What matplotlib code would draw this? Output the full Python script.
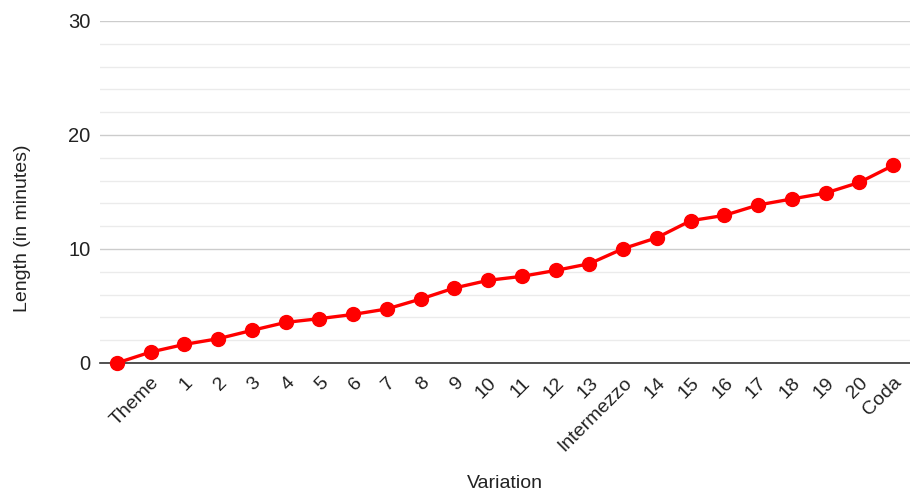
import matplotlib
matplotlib.use('Agg')
import numpy as np
from matplotlib import pyplot as plt
from matplotlib.ticker import MultipleLocator

plt.rcParams['font.family'] = ['Liberation Sans', 'DejaVu Sans']

labels = ['', 'Theme', '1', '2', '3', '4', '5', '6', '7', '8', '9', '10',
          '11', '12', '13', 'Intermezzo', '14', '15', '16', '17', '18', '19',
          '20', 'Coda']
minutes = [0.0, 0.96, 1.63, 2.13, 2.86, 3.56, 3.89, 4.26, 4.74, 5.61, 6.58,
           7.25, 7.60, 8.12, 8.71, 10.03, 10.99, 12.48, 12.95, 13.86, 14.39,
           14.91, 15.84, 17.33]

fig = plt.figure(figsize=(9.1, 4.96), dpi=100)
ax = fig.add_axes([100/910, 1 - 363/496, 810/910, (363 - 21)/496])

x = np.arange(len(labels))
ax.plot(x, minutes, color='#ff0000', lw=2.4, marker='o', ms=10, zorder=3,
        clip_on=False)

ax.set_xlim(-0.5, len(labels) - 0.5)
ax.set_ylim(0, 30)
ax.yaxis.set_major_locator(MultipleLocator(10))
ax.yaxis.set_minor_locator(MultipleLocator(2))
ax.grid(which='major', axis='y', color='#cccccc', lw=1)
ax.grid(which='minor', axis='y', color='#ebebeb', lw=1)
ax.set_axisbelow(True)

for s in ['top', 'right', 'left']:
    ax.spines[s].set_visible(False)
ax.spines['bottom'].set_color('#333333')
ax.spines['bottom'].set_linewidth(1.2)
ax.spines['bottom'].set_zorder(2)

ax.set_xticks(x)
ax.set_xticklabels(labels, rotation=45, ha='right', rotation_mode='anchor',
                   fontsize=14, color='#222222')
ax.tick_params(axis='both', which='both', length=0)
ax.tick_params(axis='x', pad=8)
ax.tick_params(axis='y', pad=7, labelsize=14.5, labelcolor='#222222')

ax.set_xlabel('Variation', fontsize=14, color='#222222')
ax.set_ylabel('Length (in minutes)', fontsize=14, color='#222222')
ax.xaxis.set_label_coords(0.5, -(475 - 363)/342)
ax.yaxis.set_label_coords(-(100 - 31)/810, 0.5 - (228 - 192)/342)

fig.savefig('out.png', dpi=100)
